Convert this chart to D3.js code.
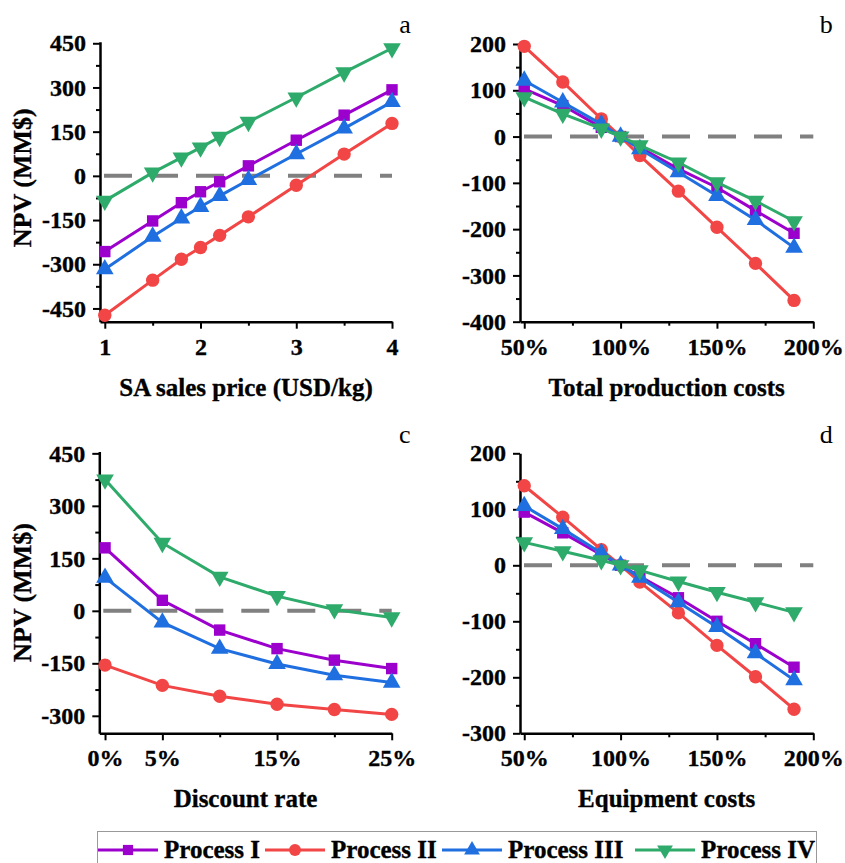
<!DOCTYPE html>
<html>
<head>
<meta charset="utf-8">
<script src="https://cdn.jsdelivr.net/npm/d3@7"></script>
<style>
  body { margin: 0; background: #fff; }
  svg { display: block; }
  svg text { font-family: "Liberation Serif", "Times New Roman", serif; }
  svg text.bold { font-weight: bold; stroke: #000; stroke-width: 0.35px; }
</style>
</head>
<body>
<div id="chart"></div>
<script>
// series names
const processes = ["Process I", "Process II", "Process III", "Process IV"];

// a: SA sales price
const priceX = [1, 1.5, 1.8, 2, 2.2, 2.5, 3, 3.5, 4];
const priceNPV = [
    [-257, -153, -91, -54, -20, 34, 121, 206, 292],
    [-473, -354, -283, -243, -202, -139, -32, 74, 178],
    [-317, -206, -144, -105, -68, -14, 74, 161, 251],
    [-85, 11, 62, 96, 132, 183, 266, 351, 433]
];

// b: total production costs (% of base)
const costX = [50, 70, 90, 100, 110, 130, 150, 170, 190];
const prodNPV = [
    [103, 67, 20, 0, -23, -70, -110, -160, -209],
    [195, 118, 38, 0, -41, -118, -196, -274, -354],
    [121, 74, 27, 0, -27, -77, -128, -180, -240],
    [85, 49, 17, 0, -19, -56, -99, -139, -183]
];

// c: discount rate
const rateX = [0, 5, 10, 15, 20, 25];
const rateNPV = [
    [180, 30, -55, -108, -141, -165],
    [-155, -213, -244, -267, -282, -296],
    [95, -33, -108, -152, -184, -205],
    [375, 194, 97, 42, 4, -19]
];

// d: equipment costs
const equipNPV = [
    [95, 58, 19, 0, -20, -58, -100, -140, -182],
    [142, 86, 28, 0, -30, -85, -143, -199, -257],
    [106, 65, 22, 0, -22, -66, -110, -157, -205],
    [41, 25, 9, 0, -9, -29, -48, -66, -84]
];

// tick labels
const priceTicks = [1, 2, 3, 4];
const costTicks = [50, 100, 150, 200];
const rateTicks = [0, 5, 15, 25];
const npvTicksA = [-450, -300, -150, 0, 150, 300, 450];
const npvTicksC = [-300, -150, 0, 150, 300, 450];
const npvTicksB = [-400, -300, -200, -100, 0, 100, 200];
const npvTicksD = [-300, -200, -100, 0, 100, 200];

const colors = ["#9b00cc", "#f24545", "#1f6fe0", "#2eaa6a"];
const symbols = [d3.symbolSquare, d3.symbolCircle, d3.symbolTriangle, d3.symbolTriangle];
const symSizes = [130, 140, 135, 135];
const symRotate = [0, 0, 0, 180];

const width = 845, height = 863;
const serif = '"Liberation Serif", "Times New Roman", serif';

const svg = d3.select("#chart").append("svg")
    .attr("width", width)
    .attr("height", height);

// plain hyphen minus, like the original
const plain = d => String(d);
const pct = d => d + "%";

function drawPanel(p) {
    const x = d3.scaleLinear().domain(p.xDomain).range([p.left, p.right]);
    const y = d3.scaleLinear().domain(p.yDomain).range([p.bottom, p.top]);
    const g = svg.append("g");

    // minor ticks
    g.append("g")
        .attr("transform", `translate(0,${p.bottom})`)
        .call(d3.axisBottom(x).tickValues(p.xMinor).tickSize(4).tickSizeOuter(0).tickFormat(""))
        .call(a => a.select(".domain").remove());
    g.append("g")
        .attr("transform", `translate(${p.left},0)`)
        .call(d3.axisLeft(y).tickValues(p.yMinor).tickSize(4).tickSizeOuter(0).tickFormat(""))
        .call(a => a.select(".domain").remove());

    // major axes
    const xAxis = g.append("g")
        .attr("transform", `translate(0,${p.bottom})`)
        .call(d3.axisBottom(x).tickValues(p.xTicks).tickSize(7).tickSizeOuter(0).tickFormat(p.xFormat));
    xAxis.selectAll("text")
        .attr("y", 16)
        .attr("dy", "0.71em");

    g.append("g")
        .attr("transform", `translate(${p.left},0)`)
        .call(d3.axisLeft(y).tickValues(p.yTicks).tickSize(7).tickSizeOuter(0).tickPadding(7).tickFormat(plain));

    g.selectAll("g").attr("font-family", serif).attr("font-size", 24);
    g.selectAll(".tick line").attr("stroke", "#000").attr("stroke-width", 2);
    g.selectAll(".domain").attr("stroke", "#000").attr("stroke-width", 2.5);
    g.selectAll(".tick text")
        .attr("class", "bold")
        .attr("fill", "#000")
        .style("font-size", "24px");

    // zero line
    g.append("line")
        .attr("x1", x(p.xDomain[0]) + 4).attr("x2", x(p.xDomain[1]))
        .attr("y1", y(0)).attr("y2", y(0))
        .attr("stroke", "#808080")
        .attr("stroke-width", 4)
        .attr("stroke-dasharray", "28,18");

    // series
    const line = d3.line()
        .x((d, i) => x(p.xs[i]))
        .y(d => y(d));

    p.series.forEach(function(vals, s) {
        g.append("path")
            .attr("d", line(vals))
            .attr("fill", "none")
            .attr("stroke", colors[s])
            .attr("stroke-width", 3);
        g.selectAll(null)
            .data(vals)
            .join("path")
            .attr("d", d3.symbol(symbols[s], symSizes[s]))
            .attr("transform", (d, i) => `translate(${x(p.xs[i])},${y(d)}) rotate(${symRotate[s]})`)
            .attr("fill", colors[s]);
    });

    // axis title
    g.append("text")
        .attr("class", "bold")
        .attr("x", (p.left + p.right) / 2)
        .attr("y", p.bottom + 74)
        .attr("text-anchor", "middle")
        .style("font-size", "25px")
        .text(p.xTitle);

    if (p.yTitle) {
        g.append("text")
            .attr("class", "bold")
            .attr("transform", `translate(31,${(p.top + p.bottom) / 2 + p.yTitleShift}) rotate(-90)`)
            .attr("text-anchor", "middle")
            .style("font-size", "26px")
            .text(p.yTitle);
    }

    // panel letter
    g.append("text")
        .attr("x", p.right + 13)
        .attr("y", p.letterY)
        .attr("text-anchor", "middle")
        .style("font-size", "26px")
        .text(p.letter);
}

drawPanel({
    left: 100, right: 392, top: 41.8, bottom: 321.7,
    xDomain: [0.95, 4], yDomain: [-495, 455],
    xTicks: priceTicks, xMinor: [1.5, 2.5, 3.5], xFormat: plain,
    yTicks: npvTicksA, yMinor: [-375, -225, -75, 75, 225, 375],
    xs: priceX, series: priceNPV,
    xTitle: "SA sales price (USD/kg)",
    yTitle: "NPV (MM$)", yTitleShift: -4,
    letter: "a", letterY: 33
});

drawPanel({
    left: 520, right: 813.3, top: 44, bottom: 321.7,
    xDomain: [47.8, 200], yDomain: [-400, 200],
    xTicks: costTicks, xMinor: [75, 125, 175], xFormat: pct,
    yTicks: npvTicksB, yMinor: [-350, -250, -150, -50, 50, 150],
    xs: costX, series: prodNPV,
    xTitle: "Total production costs",
    yTitle: null,
    letter: "b", letterY: 33
});

drawPanel({
    left: 99.3, right: 391.7, top: 451.6, bottom: 733.3,
    xDomain: [-0.5, 25], yDomain: [-350, 455],
    xTicks: rateTicks, xMinor: [10, 20], xFormat: pct,
    yTicks: npvTicksC, yMinor: [-225, -75, 75, 225, 375],
    xs: rateX, series: rateNPV,
    xTitle: "Discount rate",
    yTitle: "NPV (MM$)", yTitleShift: 0,
    letter: "c", letterY: 443
});

drawPanel({
    left: 520, right: 813.3, top: 453.3, bottom: 733.3,
    xDomain: [47.8, 200], yDomain: [-300, 200],
    xTicks: costTicks, xMinor: [75, 125, 175], xFormat: pct,
    yTicks: npvTicksD, yMinor: [-250, -150, -50, 50, 150],
    xs: costX, series: equipNPV,
    xTitle: "Equipment costs",
    yTitle: null,
    letter: "d", letterY: 443
});

// legend
const legend = svg.append("g");
legend.append("rect")
    .attr("x", 97.5).attr("y", 831.5)
    .attr("width", 719).attr("height", 40)
    .attr("fill", "none")
    .attr("stroke", "#999")
    .attr("stroke-width", 1);

const legendX = [98, 265, 442, 635];
processes.forEach(function(name, s) {
    const lx = legendX[s];
    legend.append("line")
        .attr("x1", lx).attr("x2", lx + 60)
        .attr("y1", 850).attr("y2", 850)
        .attr("stroke", colors[s])
        .attr("stroke-width", 3);
    legend.append("path")
        .attr("d", d3.symbol(symbols[s], symSizes[s] * 0.8))
        .attr("transform", `translate(${lx + 30},850) rotate(${symRotate[s]})`)
        .attr("fill", colors[s]);
    legend.append("text")
        .attr("class", "bold")
        .attr("x", lx + 66)
        .attr("y", 858)
        .style("font-size", "25px")
        .text(name);
});
</script>
</body>
</html>
